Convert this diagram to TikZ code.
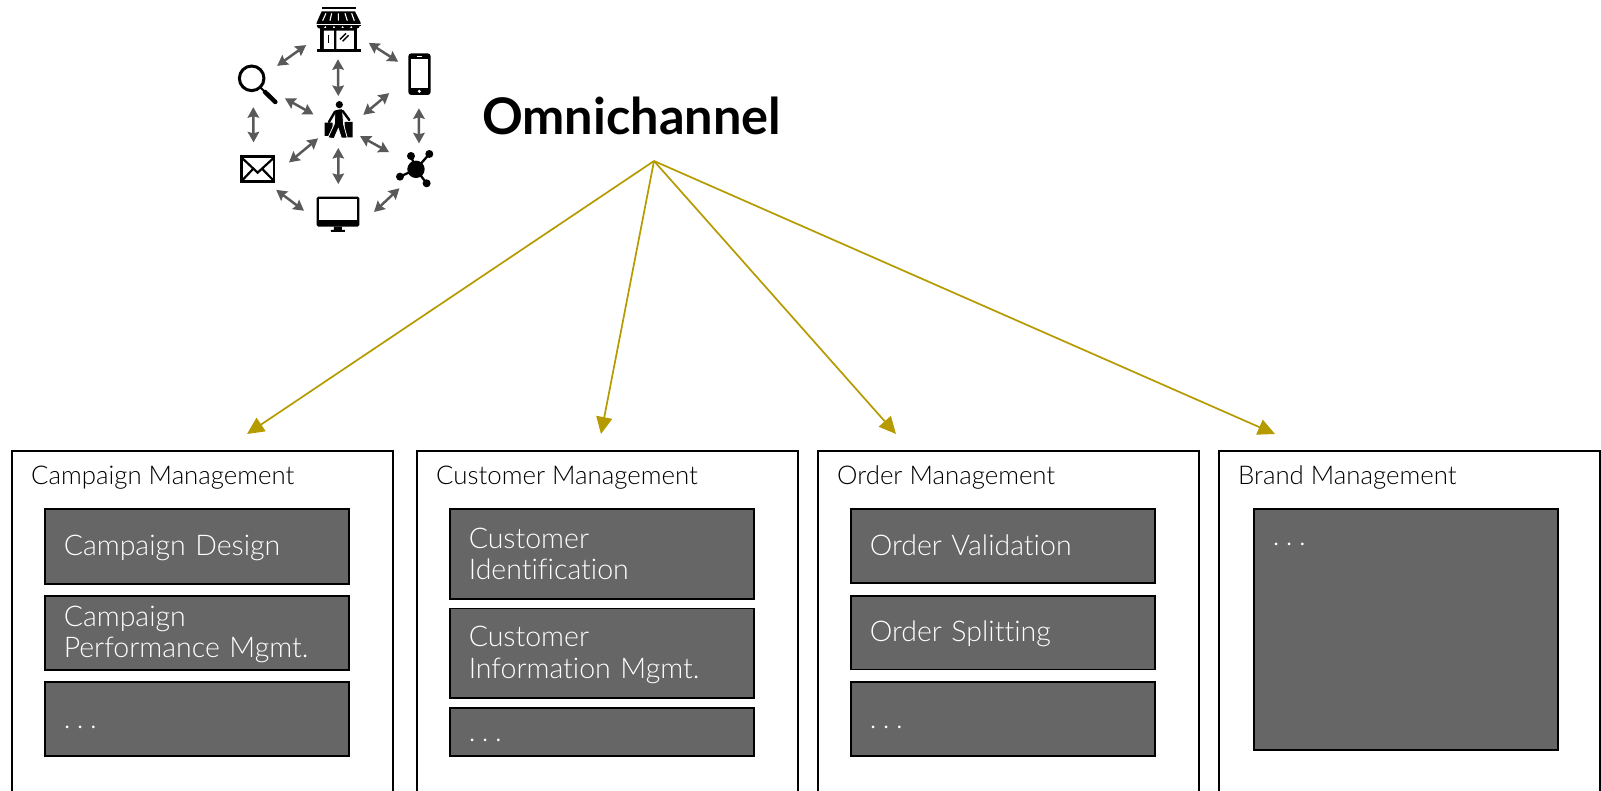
\documentclass[tikz,border=0pt]{standalone}
\usepackage{fontspec}
\setmainfont{Lato Light}[BoldFont=Lato Bold,Ligatures=NoCommon]
\usetikzlibrary{arrows.meta}
\definecolor{linkgold}{HTML}{B59A00}
\definecolor{subgray}{HTML}{666666}
\definecolor{chanarrow}{HTML}{595959}
\newcommand{\lnstrut}{\rule[-4pt]{0pt}{28pt}}
\newcommand{\moredots}{\lnstrut.\kern6.5pt.\kern6.5pt.}
\tikzset{
  areabox/.style={draw=black,line width=1.5pt,fill=white,anchor=north west,minimum width=381pt,minimum height=400pt,inner sep=0pt},
  arealabel/.style={anchor=base west,inner sep=0pt,font=\fontsize{25.8}{30}\selectfont},
  subbox/.style={draw=black,line width=1.5pt,fill=subgray,text=white,anchor=north west,minimum width=304pt,minimum height=#1,
    text width=266pt,inner xsep=19pt,inner ysep=0pt,align=left,font=\fontsize{28.5}{31.5}\selectfont},
  iconspot/.style={circle,inner sep=0pt,outer sep=0pt,minimum size=#1},
  chanlink/.style={draw=chanarrow,line width=2.5pt,{Stealth[length=10.5pt,width=11.5pt,inset=1.5pt]}-{Stealth[length=10.5pt,width=11.5pt,inset=1.5pt]}},
  goldlink/.style={draw=linkgold,line width=1.7pt,-{Triangle[length=17pt,width=16pt]}},
}
\begin{document}
\begin{tikzpicture}[x=1pt,y=-1pt]
  \useasboundingbox (0,0) rectangle (1601,791);
  \clip (0,0) rectangle (1601,791);
  % title
  \node[anchor=base west,inner sep=0pt,font=\fontsize{50.5}{54}\selectfont\bfseries] (title) at (482,135) {Omnichannel};
  \coordinate (apex) at (654,161);
  % areas
  \foreach \name/\x/\txt in {campaign/11/Campaign Management,customer/416/Customer Management,order/817/Order Management,brand/1218/Brand Management}{
    \node[areabox] (\name) at (\x,450) {};
    \node[arealabel] (\name-label) at (\x+20,484) {\txt};
  }
  % sub functions
  \foreach \name/\x/\y/\h/\txt in {
      design/44/508/75pt/{\lnstrut Campaign Design},
      perf/44/595/74pt/{\lnstrut Campaign\\\lnstrut Performance Mgmt.},
      campmore/44/681/74pt/{\moredots},
      ident/449/508/90pt/{\lnstrut Customer\\\lnstrut Identification},
      info/449/607.5/89.5pt/{\lnstrut Customer\\\lnstrut Information Mgmt.},
      custmore/449/707/48pt/{\moredots},
      valid/850/508/74pt/{\lnstrut Order Validation},
      split/850/595/73.5pt/{\lnstrut Order Splitting},
      ordermore/850/681/74pt/{\moredots}}{
    \node[subbox=\h] (\name) at (\x,\y) {\txt};
  }
  \node[subbox=241pt,text depth=192pt] (brandmore) at (1253,508) {\moredots};
  % links from title
  \foreach \name/\x in {campaign/247,customer/601,order/896,brand/1275}{
    \coordinate (\name-in) at (\x,434);
    \draw[goldlink] (apex) -- (\name-in);
  }
  % channel spots
  \node[iconspot=79.6pt] (shop) at (336.6,19.5) {};
  \node[iconspot=52pt] (phone) at (413.1,83) {};
  \node[iconspot=49pt] (net) at (409.4,165.9) {};
  \node[iconspot=72.2pt] (monitor) at (338.9,220.1) {};
  \node[iconspot=52.8pt] (mail) at (263,167) {};
  \node[iconspot=47.8pt] (magn) at (264.5,86.1) {};
  \node[iconspot=52pt] (person) at (338.3,122) {};
  \foreach \from/\to in {shop.220/magn.58,shop.324/phone.125,shop.272/person.90,magn.329/person.163,phone.203/person.16,
      phone.283/net.67,person.327/net.146,person.219/mail.10,person.270/monitor.91,magn.242/mail.111,mail.300/monitor.165,monitor.13/net.246}{
    \draw[chanlink] (\from) -- (\to);
  }
  % icons
  \begin{scope}[shift={(220,0)},x=0.3333pt,y=-0.3333pt]
    % shop
    \fill (305,20) rectangle (407,28);
    \fill (305,34) -- (405,34) -- (422,68) -- (422,72) -- (290,72) -- (290,68) -- cycle;
    \fill (290,74) rectangle (422,78);
    \foreach \c in {303,329,355,381,407}{
      \fill (\c-13,77) arc (180:360:4.3pt and 3.2pt);
    }
    \draw[white,line width=1.1pt] (318,40) -- (308,62) (335,40) -- (330,62) (355,40) -- (355,62) (375,40) -- (382,62) (395,40) -- (403,62);
    \fill (300,84) rectangle (412,148);
    \fill[white] (312,92) rectangle (342,148) (349,92) rectangle (402,148);
    \fill (290,148) rectangle (422,156);
    \draw[line width=1.4pt] (326,104) -- (326,130);
    \draw[line width=1.4pt] (360,118) -- (378,100) (368,124) -- (386,106);
    % phone
    \fill[rounded corners=3pt] (565,160) rectangle (632,285);
    \fill[white] (574,178) rectangle (623,263);
    \fill[white] (598,274) circle (1.7pt);
    \draw[white,line width=0.8pt] (590,170) -- (606,170);
    % magnifier
    \draw[line width=3pt] (95,235) circle (12.3pt);
    \draw[line width=2pt] (122,263) -- (135,276);
    \draw[line width=4.5pt,line cap=round] (135,276) -- (166,306);
    % envelope
    \draw[line width=2.6pt] (65,470) rectangle (162,545);
    \draw[line width=2.2pt] (65,473) -- (113,518) -- (162,473) (65,543) -- (100,506) (162,543) -- (126,506);
    % network
    \draw[line width=2.3pt] (588,508) -- (573,468) (588,508) -- (628,462) (588,508) -- (540,530) (588,508) -- (620,550);
    \fill (588,508) circle (8.7pt);
    \fill (573,468) circle (4pt) (628,462) circle (4pt) (540,530) circle (4pt) (620,550) circle (4pt);
    % monitor
    \fill[rounded corners=1.5pt] (290,590) rectangle (418,680);
    \fill[white] (297,597) rectangle (411,660);
    \fill (342,680) rectangle (366,690) (333,690) rectangle (375,696);
    % shopper
    \fill (314,368) rectangle (338,408) (374,366) rectangle (398,412);
    \draw[white,line width=0.8pt,fill=black] (345,329) -- (367,326) -- (371,374) -- (382,414) -- (364,414) -- (355,386) -- (342,416) -- (324,413) -- (343,372) -- cycle;
    \draw[line width=2.4pt,line cap=round] (345,335) -- (327,366) (368,333) -- (388,360);
    \fill (358,314) circle (3.6pt);
  \end{scope}
\end{tikzpicture}
\end{document}
